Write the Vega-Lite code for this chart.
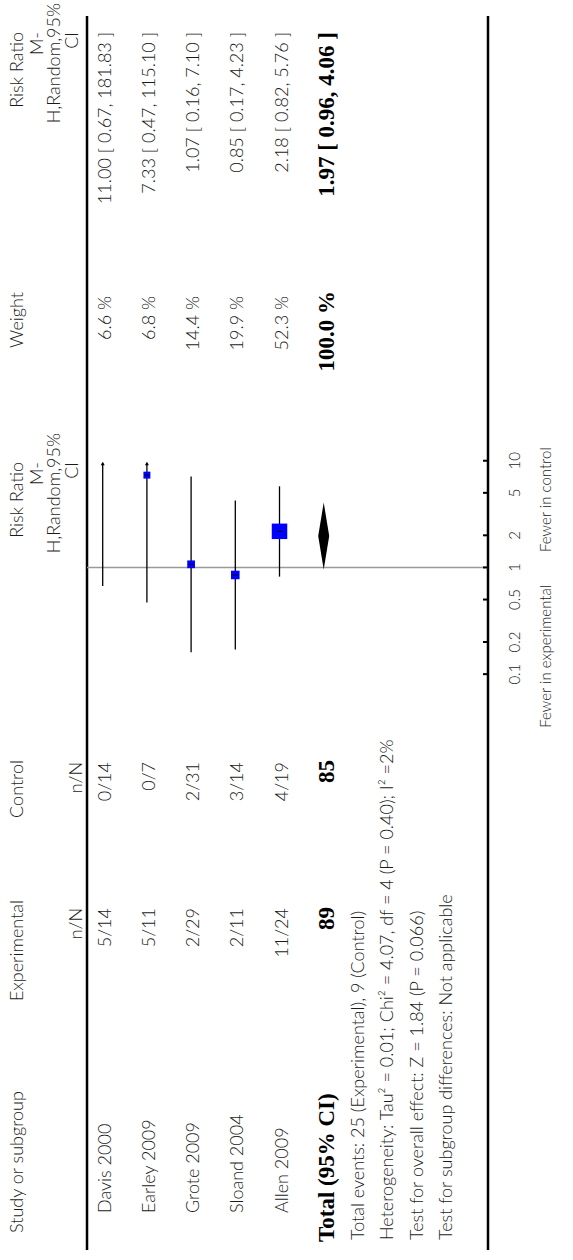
{
  "$schema": "https://vega.github.io/schema/vega-lite/v6.json",
  "width": 573,
  "height": 1260,
  "autosize": {"type": "none"},
  "padding": 0,
  "background": "white",
  "config": {"view": {"stroke": null}, "text": {"font": "Lato", "fontWeight": 300, "fontSize": 18, "fill": "#1a1a1a"}},
  "datasets": {
    "studies": [
      {"row": 1, "study": "Davis 2000", "expN": "5/14", "ctrlN": "0/14", "weight": 6.6, "weightLabel": "6.6 %", "rr": 11.00, "lo": 0.67, "hi": 181.83, "ciLabel": "11.00 [ 0.67, 181.83 ]"},
      {"row": 2, "study": "Earley 2009", "expN": "5/11", "ctrlN": "0/7", "weight": 6.8, "weightLabel": "6.8 %", "rr": 7.33, "lo": 0.47, "hi": 115.10, "ciLabel": "7.33 [ 0.47, 115.10 ]"},
      {"row": 3, "study": "Grote 2009", "expN": "2/29", "ctrlN": "2/31", "weight": 14.4, "weightLabel": "14.4 %", "rr": 1.07, "lo": 0.16, "hi": 7.10, "ciLabel": "1.07 [ 0.16, 7.10 ]"},
      {"row": 4, "study": "Sloand 2004", "expN": "2/11", "ctrlN": "3/14", "weight": 19.9, "weightLabel": "19.9 %", "rr": 0.85, "lo": 0.17, "hi": 4.23, "ciLabel": "0.85 [ 0.17, 4.23 ]"},
      {"row": 5, "study": "Allen 2009", "expN": "11/24", "ctrlN": "4/19", "weight": 52.3, "weightLabel": "52.3 %", "rr": 2.18, "lo": 0.82, "hi": 5.76, "ciLabel": "2.18 [ 0.82, 5.76 ]"}
    ],
    "total": [
      {"row": 6, "label": "Total (95% CI)", "exp": "89", "ctrl": "85", "weightLabel": "100.0 %", "rr": 1.97, "lo": 0.96, "hi": 4.06, "ciLabel": "1.97 [ 0.96, 4.06 ]"}
    ],
    "ticks": [
      {"v": 0.1, "label": "0.1"}, {"v": 0.2, "label": "0.2"}, {"v": 0.5, "label": "0.5"},
      {"v": 1, "label": "1"}, {"v": 2, "label": "2"}, {"v": 5, "label": "5"}, {"v": 10, "label": "10"}
    ]
  },
  "resolve": {"scale": {"y": "independent", "size": "independent"}},
  "layer": [
    {
      "layer": [
        {"data": {"values": [{}]},
         "mark": {"type": "rule", "stroke": "#000", "strokeWidth": 2.5},
         "encoding": {"x": {"datum": 0.645, "type": "quantitative", "scale": {"domain": [-1.3235, 11.64], "nice": false, "zero": false}, "axis": null},
                      "y": {"datum": 16, "type": "quantitative", "scale": {"domain": [0, 1260], "reverse": true, "nice": false, "zero": false}, "axis": null},
                      "y2": {"datum": 1250}}},
        {"data": {"values": [{}]},
         "mark": {"type": "rule", "stroke": "#000", "strokeWidth": 2.5},
         "encoding": {"x": {"datum": 9.717, "type": "quantitative", "scale": {"domain": [-1.3235, 11.64], "nice": false, "zero": false}, "axis": null},
                      "y": {"datum": 16, "type": "quantitative", "scale": {"domain": [0, 1260], "reverse": true, "nice": false, "zero": false}, "axis": null},
                      "y2": {"datum": 1250}}},
        {"data": {"values": [{"label": "Study or subgroup"}]},
         "mark": {"type": "text", "angle": 270, "align": "left", "baseline": "middle"},
         "encoding": {"x": {"datum": -0.916, "type": "quantitative", "scale": {"domain": [-1.3235, 11.64], "nice": false, "zero": false}, "axis": null},
                      "y": {"datum": 1233, "type": "quantitative", "scale": {"domain": [0, 1260], "reverse": true, "nice": false, "zero": false}, "axis": null},
                      "text": {"field": "label"}}},
        {"data": {"values": [{"label": "Experimental"}]},
         "mark": {"type": "text", "angle": 270, "align": "right", "baseline": "middle"},
         "encoding": {"x": {"datum": -0.916, "type": "quantitative", "scale": {"domain": [-1.3235, 11.64], "nice": false, "zero": false}, "axis": null},
                      "y": {"datum": 900, "type": "quantitative", "scale": {"domain": [0, 1260], "reverse": true, "nice": false, "zero": false}, "axis": null},
                      "text": {"field": "label"}}},
        {"data": {"values": [{"label": "n/N"}]},
         "mark": {"type": "text", "angle": 270, "align": "right", "baseline": "middle"},
         "encoding": {"x": {"datum": 0.419, "type": "quantitative", "scale": {"domain": [-1.3235, 11.64], "nice": false, "zero": false}, "axis": null},
                      "y": {"datum": 908, "type": "quantitative", "scale": {"domain": [0, 1260], "reverse": true, "nice": false, "zero": false}, "axis": null},
                      "text": {"field": "label"}}},
        {"data": {"values": [{"label": "Control"}]},
         "mark": {"type": "text", "angle": 270, "align": "right", "baseline": "middle"},
         "encoding": {"x": {"datum": -0.916, "type": "quantitative", "scale": {"domain": [-1.3235, 11.64], "nice": false, "zero": false}, "axis": null},
                      "y": {"datum": 760, "type": "quantitative", "scale": {"domain": [0, 1260], "reverse": true, "nice": false, "zero": false}, "axis": null},
                      "text": {"field": "label"}}},
        {"data": {"values": [{"label": "n/N"}]},
         "mark": {"type": "text", "angle": 270, "align": "right", "baseline": "middle"},
         "encoding": {"x": {"datum": 0.419, "type": "quantitative", "scale": {"domain": [-1.3235, 11.64], "nice": false, "zero": false}, "axis": null},
                      "y": {"datum": 762, "type": "quantitative", "scale": {"domain": [0, 1260], "reverse": true, "nice": false, "zero": false}, "axis": null},
                      "text": {"field": "label"}}},
        {"data": {"values": [{"label": "Weight"}]},
         "mark": {"type": "text", "angle": 270, "align": "right", "baseline": "middle"},
         "encoding": {"x": {"datum": -0.916, "type": "quantitative", "scale": {"domain": [-1.3235, 11.64], "nice": false, "zero": false}, "axis": null},
                      "y": {"datum": 292, "type": "quantitative", "scale": {"domain": [0, 1260], "reverse": true, "nice": false, "zero": false}, "axis": null},
                      "text": {"field": "label"}}},
        {"data": {"values": [{"label": "Risk Ratio"}]},
         "mark": {"type": "text", "angle": 270, "align": "right", "baseline": "middle"},
         "encoding": {"x": {"datum": -0.916, "type": "quantitative", "scale": {"domain": [-1.3235, 11.64], "nice": false, "zero": false}, "axis": null},
                      "y": {"datum": 32, "type": "quantitative", "scale": {"domain": [0, 1260], "reverse": true, "nice": false, "zero": false}, "axis": null},
                      "text": {"field": "label"}}},
        {"data": {"values": [{"label": "M-"}]},
         "mark": {"type": "text", "angle": 270, "align": "right", "baseline": "middle"},
         "encoding": {"x": {"datum": -0.464, "type": "quantitative", "scale": {"domain": [-1.3235, 11.64], "nice": false, "zero": false}, "axis": null},
                      "y": {"datum": 32, "type": "quantitative", "scale": {"domain": [0, 1260], "reverse": true, "nice": false, "zero": false}, "axis": null},
                      "text": {"field": "label"}}},
        {"data": {"values": [{"label": "H,Random,95%"}]},
         "mark": {"type": "text", "angle": 270, "align": "right", "baseline": "middle"},
         "encoding": {"x": {"datum": -0.079, "type": "quantitative", "scale": {"domain": [-1.3235, 11.64], "nice": false, "zero": false}, "axis": null},
                      "y": {"datum": 3, "type": "quantitative", "scale": {"domain": [0, 1260], "reverse": true, "nice": false, "zero": false}, "axis": null},
                      "text": {"field": "label"}}},
        {"data": {"values": [{"label": "CI"}]},
         "mark": {"type": "text", "angle": 270, "align": "right", "baseline": "middle"},
         "encoding": {"x": {"datum": 0.328, "type": "quantitative", "scale": {"domain": [-1.3235, 11.64], "nice": false, "zero": false}, "axis": null},
                      "y": {"datum": 32, "type": "quantitative", "scale": {"domain": [0, 1260], "reverse": true, "nice": false, "zero": false}, "axis": null},
                      "text": {"field": "label"}}},
        {"data": {"values": [{"label": "Risk Ratio"}]},
         "mark": {"type": "text", "angle": 270, "align": "right", "baseline": "middle"},
         "encoding": {"x": {"datum": -0.916, "type": "quantitative", "scale": {"domain": [-1.3235, 11.64], "nice": false, "zero": false}, "axis": null},
                      "y": {"datum": 462, "type": "quantitative", "scale": {"domain": [0, 1260], "reverse": true, "nice": false, "zero": false}, "axis": null},
                      "text": {"field": "label"}}},
        {"data": {"values": [{"label": "M-"}]},
         "mark": {"type": "text", "angle": 270, "align": "right", "baseline": "middle"},
         "encoding": {"x": {"datum": -0.464, "type": "quantitative", "scale": {"domain": [-1.3235, 11.64], "nice": false, "zero": false}, "axis": null},
                      "y": {"datum": 462, "type": "quantitative", "scale": {"domain": [0, 1260], "reverse": true, "nice": false, "zero": false}, "axis": null},
                      "text": {"field": "label"}}},
        {"data": {"values": [{"label": "H,Random,95%"}]},
         "mark": {"type": "text", "angle": 270, "align": "right", "baseline": "middle"},
         "encoding": {"x": {"datum": -0.079, "type": "quantitative", "scale": {"domain": [-1.3235, 11.64], "nice": false, "zero": false}, "axis": null},
                      "y": {"datum": 433, "type": "quantitative", "scale": {"domain": [0, 1260], "reverse": true, "nice": false, "zero": false}, "axis": null},
                      "text": {"field": "label"}}},
        {"data": {"values": [{"label": "CI"}]},
         "mark": {"type": "text", "angle": 270, "align": "right", "baseline": "middle"},
         "encoding": {"x": {"datum": 0.328, "type": "quantitative", "scale": {"domain": [-1.3235, 11.64], "nice": false, "zero": false}, "axis": null},
                      "y": {"datum": 462, "type": "quantitative", "scale": {"domain": [0, 1260], "reverse": true, "nice": false, "zero": false}, "axis": null},
                      "text": {"field": "label"}}},
        {"data": {"name": "studies"},
         "mark": {"type": "text", "angle": 270, "align": "left", "baseline": "middle", "dy": 3},
         "encoding": {"x": {"field": "row", "type": "quantitative", "scale": {"domain": [-1.3235, 11.64], "nice": false, "zero": false}, "axis": null},
                      "y": {"datum": 1213, "type": "quantitative", "scale": {"domain": [0, 1260], "reverse": true, "nice": false, "zero": false}, "axis": null},
                      "text": {"field": "study"}}},
        {"data": {"name": "studies"},
         "mark": {"type": "text", "angle": 270, "align": "right", "baseline": "middle", "dy": 3},
         "encoding": {"x": {"field": "row", "type": "quantitative", "scale": {"domain": [-1.3235, 11.64], "nice": false, "zero": false}, "axis": null},
                      "y": {"datum": 908, "type": "quantitative", "scale": {"domain": [0, 1260], "reverse": true, "nice": false, "zero": false}, "axis": null},
                      "text": {"field": "expN"}}},
        {"data": {"name": "studies"},
         "mark": {"type": "text", "angle": 270, "align": "right", "baseline": "middle", "dy": 3},
         "encoding": {"x": {"field": "row", "type": "quantitative", "scale": {"domain": [-1.3235, 11.64], "nice": false, "zero": false}, "axis": null},
                      "y": {"datum": 762, "type": "quantitative", "scale": {"domain": [0, 1260], "reverse": true, "nice": false, "zero": false}, "axis": null},
                      "text": {"field": "ctrlN"}}},
        {"data": {"name": "studies"},
         "mark": {"type": "text", "angle": 270, "align": "right", "baseline": "middle", "dy": 3},
         "encoding": {"x": {"field": "row", "type": "quantitative", "scale": {"domain": [-1.3235, 11.64], "nice": false, "zero": false}, "axis": null},
                      "y": {"datum": 296, "type": "quantitative", "scale": {"domain": [0, 1260], "reverse": true, "nice": false, "zero": false}, "axis": null},
                      "text": {"field": "weightLabel"}}},
        {"data": {"name": "studies"},
         "mark": {"type": "text", "angle": 270, "align": "right", "baseline": "middle", "dy": 3},
         "encoding": {"x": {"field": "row", "type": "quantitative", "scale": {"domain": [-1.3235, 11.64], "nice": false, "zero": false}, "axis": null},
                      "y": {"datum": 32, "type": "quantitative", "scale": {"domain": [0, 1260], "reverse": true, "nice": false, "zero": false}, "axis": null},
                      "text": {"field": "ciLabel"}}},
        {"data": {"name": "total"},
         "mark": {"type": "text", "angle": 270, "align": "left", "baseline": "middle", "dy": 3, "font": "Liberation Serif", "fontWeight": "bold", "fontSize": 23, "fill": "#000"},
         "encoding": {"x": {"field": "row", "type": "quantitative", "scale": {"domain": [-1.3235, 11.64], "nice": false, "zero": false}, "axis": null},
                      "y": {"datum": 1242, "type": "quantitative", "scale": {"domain": [0, 1260], "reverse": true, "nice": false, "zero": false}, "axis": null},
                      "text": {"field": "label"}}},
        {"data": {"name": "total"},
         "mark": {"type": "text", "angle": 270, "align": "right", "baseline": "middle", "dy": 3, "font": "Liberation Serif", "fontWeight": "bold", "fontSize": 23, "fill": "#000"},
         "encoding": {"x": {"field": "row", "type": "quantitative", "scale": {"domain": [-1.3235, 11.64], "nice": false, "zero": false}, "axis": null},
                      "y": {"datum": 907, "type": "quantitative", "scale": {"domain": [0, 1260], "reverse": true, "nice": false, "zero": false}, "axis": null},
                      "text": {"field": "exp"}}},
        {"data": {"name": "total"},
         "mark": {"type": "text", "angle": 270, "align": "right", "baseline": "middle", "dy": 3, "font": "Liberation Serif", "fontWeight": "bold", "fontSize": 23, "fill": "#000"},
         "encoding": {"x": {"field": "row", "type": "quantitative", "scale": {"domain": [-1.3235, 11.64], "nice": false, "zero": false}, "axis": null},
                      "y": {"datum": 760, "type": "quantitative", "scale": {"domain": [0, 1260], "reverse": true, "nice": false, "zero": false}, "axis": null},
                      "text": {"field": "ctrl"}}},
        {"data": {"name": "total"},
         "mark": {"type": "text", "angle": 270, "align": "right", "baseline": "middle", "dy": 3, "font": "Liberation Serif", "fontWeight": "bold", "fontSize": 23, "fill": "#000"},
         "encoding": {"x": {"field": "row", "type": "quantitative", "scale": {"domain": [-1.3235, 11.64], "nice": false, "zero": false}, "axis": null},
                      "y": {"datum": 291, "type": "quantitative", "scale": {"domain": [0, 1260], "reverse": true, "nice": false, "zero": false}, "axis": null},
                      "text": {"field": "weightLabel"}}},
        {"data": {"name": "total"},
         "mark": {"type": "text", "angle": 270, "align": "right", "baseline": "middle", "dy": 3, "font": "Liberation Serif", "fontWeight": "bold", "fontSize": 23, "fill": "#000"},
         "encoding": {"x": {"field": "row", "type": "quantitative", "scale": {"domain": [-1.3235, 11.64], "nice": false, "zero": false}, "axis": null},
                      "y": {"datum": 32, "type": "quantitative", "scale": {"domain": [0, 1260], "reverse": true, "nice": false, "zero": false}, "axis": null},
                      "text": {"field": "ciLabel"}}},
        {"data": {"values": [{"label": "Total events: 25 (Experimental), 9 (Control)"}]},
         "mark": {"type": "text", "angle": 270, "align": "left", "baseline": "middle"},
         "encoding": {"x": {"datum": 6.80, "type": "quantitative", "scale": {"domain": [-1.3235, 11.64], "nice": false, "zero": false}, "axis": null},
                      "y": {"datum": 1240, "type": "quantitative", "scale": {"domain": [0, 1260], "reverse": true, "nice": false, "zero": false}, "axis": null},
                      "text": {"field": "label"}}},
        {"data": {"values": [{"label": "Heterogeneity: Tau² = 0.01; Chi² = 4.07, df = 4 (P = 0.40); I² =2%"}]},
         "mark": {"type": "text", "angle": 270, "align": "left", "baseline": "middle"},
         "encoding": {"x": {"datum": 7.455, "type": "quantitative", "scale": {"domain": [-1.3235, 11.64], "nice": false, "zero": false}, "axis": null},
                      "y": {"datum": 1240, "type": "quantitative", "scale": {"domain": [0, 1260], "reverse": true, "nice": false, "zero": false}, "axis": null},
                      "text": {"field": "label"}}},
        {"data": {"values": [{"label": "Test for overall effect: Z = 1.84 (P = 0.066)"}]},
         "mark": {"type": "text", "angle": 270, "align": "left", "baseline": "middle"},
         "encoding": {"x": {"datum": 8.135, "type": "quantitative", "scale": {"domain": [-1.3235, 11.64], "nice": false, "zero": false}, "axis": null},
                      "y": {"datum": 1240, "type": "quantitative", "scale": {"domain": [0, 1260], "reverse": true, "nice": false, "zero": false}, "axis": null},
                      "text": {"field": "label"}}},
        {"data": {"values": [{"label": "Test for subgroup differences: Not applicable"}]},
         "mark": {"type": "text", "angle": 270, "align": "left", "baseline": "middle"},
         "encoding": {"x": {"datum": 8.79, "type": "quantitative", "scale": {"domain": [-1.3235, 11.64], "nice": false, "zero": false}, "axis": null},
                      "y": {"datum": 1240, "type": "quantitative", "scale": {"domain": [0, 1260], "reverse": true, "nice": false, "zero": false}, "axis": null},
                      "text": {"field": "label"}}},
        {"data": {"values": [{"label": "Fewer in experimental"}]},
         "mark": {"type": "text", "angle": 270, "align": "right", "baseline": "middle", "fontSize": 15},
         "encoding": {"x": {"datum": 11.029, "type": "quantitative", "scale": {"domain": [-1.3235, 11.64], "nice": false, "zero": false}, "axis": null},
                      "y": {"datum": 585, "type": "quantitative", "scale": {"domain": [0, 1260], "reverse": true, "nice": false, "zero": false}, "axis": null},
                      "text": {"field": "label"}}},
        {"data": {"values": [{"label": "Fewer in control"}]},
         "mark": {"type": "text", "angle": 270, "align": "left", "baseline": "middle", "fontSize": 15},
         "encoding": {"x": {"datum": 11.029, "type": "quantitative", "scale": {"domain": [-1.3235, 11.64], "nice": false, "zero": false}, "axis": null},
                      "y": {"datum": 552, "type": "quantitative", "scale": {"domain": [0, 1260], "reverse": true, "nice": false, "zero": false}, "axis": null},
                      "text": {"field": "label"}}}
      ]
    },
    {
      "layer": [
        {"data": {"values": [{}]},
         "mark": {"type": "rule", "stroke": "#9a9a9a", "strokeWidth": 1.5},
         "encoding": {"x": {"datum": 0.645, "type": "quantitative", "scale": {"domain": [-1.3235, 11.64], "nice": false, "zero": false}, "axis": null},
                      "x2": {"datum": 9.717},
                      "y": {"datum": 1, "type": "quantitative", "scale": {"type": "log", "domain": [3.23e-7, 2.08e5], "nice": false}, "axis": null}}},
        {"data": {"name": "studies"},
         "transform": [{"filter": "datum.hi <= 10"}],
         "mark": {"type": "rule", "stroke": "#000", "strokeWidth": 1.3},
         "encoding": {"x": {"field": "row", "type": "quantitative", "scale": {"domain": [-1.3235, 11.64], "nice": false, "zero": false}, "axis": null},
                      "y": {"field": "lo", "type": "quantitative", "scale": {"type": "log", "domain": [3.23e-7, 2.08e5], "nice": false}, "axis": null},
                      "y2": {"field": "hi"}}},
        {"data": {"name": "studies"},
         "transform": [{"filter": "datum.hi > 10"}],
         "mark": {"type": "rule", "stroke": "#000", "strokeWidth": 1.3},
         "encoding": {"x": {"field": "row", "type": "quantitative", "scale": {"domain": [-1.3235, 11.64], "nice": false, "zero": false}, "axis": null},
                      "y": {"field": "lo", "type": "quantitative", "scale": {"type": "log", "domain": [3.23e-7, 2.08e5], "nice": false}, "axis": null},
                      "y2": {"datum": 9.5}}},
        {"data": {"name": "studies"},
         "transform": [{"filter": "datum.hi > 10"}],
         "mark": {"type": "point", "shape": "triangle-up", "filled": true, "color": "#000", "opacity": 1, "size": 16},
         "encoding": {"x": {"field": "row", "type": "quantitative", "scale": {"domain": [-1.3235, 11.64], "nice": false, "zero": false}, "axis": null},
                      "y": {"datum": 9.4, "type": "quantitative", "scale": {"type": "log", "domain": [3.23e-7, 2.08e5], "nice": false}, "axis": null}}},
        {"data": {"name": "studies"},
         "transform": [{"filter": "datum.rr <= 10"}],
         "mark": {"type": "point", "shape": "square", "filled": true, "color": "#0000ff", "opacity": 1},
         "encoding": {"x": {"field": "row", "type": "quantitative", "scale": {"domain": [-1.3235, 11.64], "nice": false, "zero": false}, "axis": null},
                      "y": {"field": "rr", "type": "quantitative", "scale": {"type": "log", "domain": [3.23e-7, 2.08e5], "nice": false}, "axis": null},
                      "size": {"field": "weight", "type": "quantitative", "scale": {"type": "pow", "exponent": 2, "domain": [0, 52.3], "range": [45, 240]}, "legend": null}}},
        {"data": {"name": "studies"},
         "transform": [{"filter": "datum.rr <= 10"}],
         "mark": {"type": "tick", "orient": "horizontal", "size": 5, "thickness": 1, "color": "#000", "opacity": 1},
         "encoding": {"x": {"field": "row", "type": "quantitative", "scale": {"domain": [-1.3235, 11.64], "nice": false, "zero": false}, "axis": null},
                      "y": {"field": "rr", "type": "quantitative", "scale": {"type": "log", "domain": [3.23e-7, 2.08e5], "nice": false}, "axis": null}}},
        {"data": {"name": "total"},
         "mark": {"type": "point", "shape": "M0,-1L0.165,0L0,1L-0.165,0Z", "filled": true, "color": "#000", "opacity": 1, "size": 4460},
         "encoding": {"x": {"field": "row", "type": "quantitative", "scale": {"domain": [-1.3235, 11.64], "nice": false, "zero": false}, "axis": null},
                      "y": {"field": "rr", "type": "quantitative", "scale": {"type": "log", "domain": [3.23e-7, 2.08e5], "nice": false}, "axis": null}}},
        {"data": {"name": "ticks"},
         "mark": {"type": "rule", "stroke": "#000", "strokeWidth": 2},
         "encoding": {"x": {"datum": 9.604, "type": "quantitative", "scale": {"domain": [-1.3235, 11.64], "nice": false, "zero": false}, "axis": null},
                      "x2": {"datum": 9.717},
                      "y": {"field": "v", "type": "quantitative", "scale": {"type": "log", "domain": [3.23e-7, 2.08e5], "nice": false}, "axis": null}}},
        {"data": {"name": "ticks"},
         "mark": {"type": "text", "angle": 270, "align": "center", "baseline": "middle", "fontSize": 15},
         "encoding": {"x": {"datum": 10.328, "type": "quantitative", "scale": {"domain": [-1.3235, 11.64], "nice": false, "zero": false}, "axis": null},
                      "y": {"field": "v", "type": "quantitative", "scale": {"type": "log", "domain": [3.23e-7, 2.08e5], "nice": false}, "axis": null},
                      "text": {"field": "label"}}}
      ]
    }
  ]
}
